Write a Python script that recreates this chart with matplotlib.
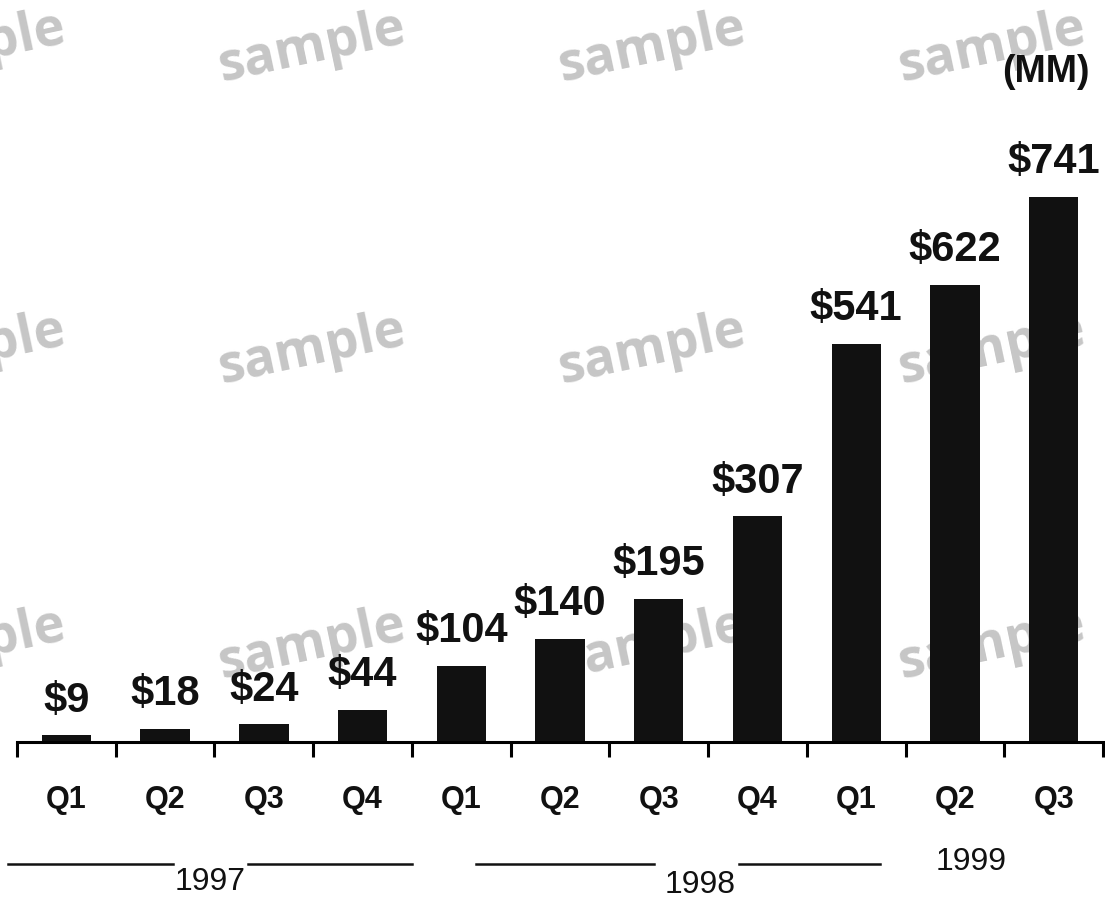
import matplotlib
matplotlib.use("Agg")
import matplotlib.pyplot as plt
from matplotlib.transforms import blended_transform_factory

# quarterly values, $MM
quarters = ["Q1", "Q2", "Q3", "Q4", "Q1", "Q2", "Q3", "Q4", "Q1", "Q2", "Q3"]
values = [9, 18, 24, 44, 104, 140, 195, 307, 541, 622, 741]
years = ["1997", "1998", "1999"]

# year captions: (x in data units, y in pixels from top)
year_pos = [(1.46, 882), (6.42, 885), (9.16, 862)]
# rule segments under the quarter labels, in data units
year_rules = [(-0.59, 1.08), (1.84, 3.50), (4.15, 5.95), (6.81, 8.24)]

W, H = 1105, 901
plt.rcParams["font.family"] = ["Liberation Sans", "DejaVu Sans"]

fig = plt.figure(figsize=(W / 100, H / 100), dpi=100)
fig.patch.set_facecolor("white")

# axes: x from -0.5 to 10.5 spans px 17..1103, baseline at px 742
ax = fig.add_axes([17 / W, (H - 742) / H, 1086 / W, 742 / H])
ax.patch.set_visible(False)
x = list(range(len(values)))
ax.bar(x, values, width=0.5, color="#111111", zorder=2)
ax.set_xlim(-0.5, len(values) - 0.5)
ax.set_ylim(0, 1008.8)

for side in ["top", "left", "right"]:
    ax.spines[side].set_visible(False)
ax.spines["bottom"].set_linewidth(2.2)
ax.set_yticks([])
ax.set_xticks([i - 0.5 for i in range(len(values) + 1)])
ax.set_xticklabels([])
ax.tick_params(axis="x", length=11, width=2.2, direction="out")

for i, v in enumerate(values):
    ax.annotate(f"${v}", xy=(i, v), xytext=(0, 17), textcoords="offset points",
                ha="center", va="baseline", fontsize=30, fontweight="bold",
                color="#111111")
    ax.annotate(quarters[i], xy=(i, 0), xytext=(0, -42), textcoords="offset points",
                ha="center", va="center", fontsize=22, fontweight="bold",
                color="#111111", annotation_clip=False)

trans = blended_transform_factory(ax.transData, fig.transFigure)
for x0, x1 in year_rules:
    ax.plot([x0, x1], [1 - 864 / H] * 2, color="#111111", lw=1.8,
            transform=trans, clip_on=False)
for label, (xd, yp) in zip(years, year_pos):
    ax.text(xd, 1 - yp / H, label, transform=trans, ha="center", va="center",
            fontsize=23, color="#111111")

fig.text(1046 / W, 1 - 72 / H, "(MM)", ha="center", va="center",
         fontsize=27, fontweight="bold", color="#111111")

# faint watermark behind everything
for yp in [48, 350, 645]:
    for xp in [-28, 312, 652, 992]:
        fig.text(xp / W, 1 - yp / H, "sample", ha="center", va="center",
                 rotation=12, rotation_mode="anchor", fontsize=38,
                 fontweight="bold", family="Open Sans", color="#c6c6c6",
                 zorder=-1)

fig.savefig("out.png", dpi=100)
